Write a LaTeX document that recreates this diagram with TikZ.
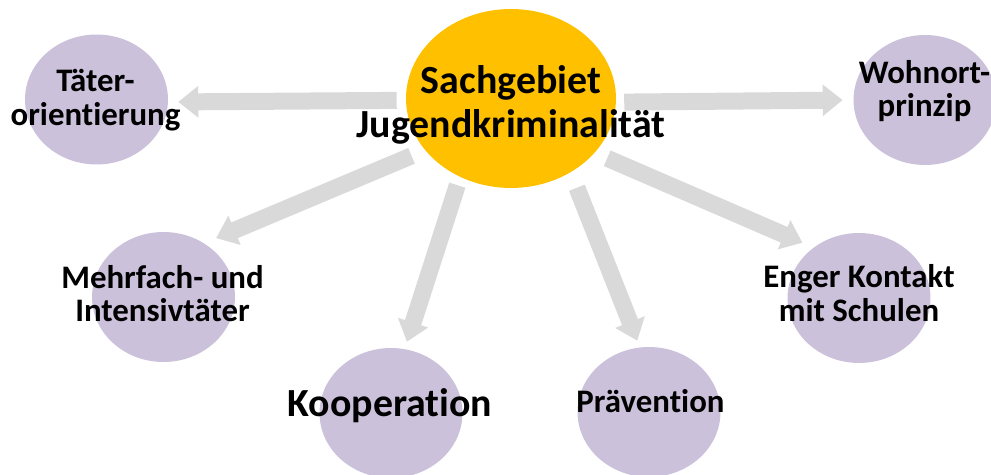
\documentclass[tikz,border=0pt]{standalone}
\usepackage{fontspec}
\setmainfont{Carlito}[RawFeature={-liga;-clig}]
\usetikzlibrary{arrows.meta,shapes.geometric}
\definecolor{hubgold}{RGB}{255,192,0}
\definecolor{leafpurple}{RGB}{204,193,218}
\definecolor{arrowgray}{RGB}{217,217,217}

\begin{document}
\begin{tikzpicture}[
    x=0.02cm, y=-0.02cm,
    every node/.style={inner sep=0pt,font=\bfseries},
    hub/.style={ellipse,fill=hubgold,minimum width=4.2cm,minimum height=3.58cm},
    leaf/.style={ellipse,fill=leafpurple,minimum width=2.86cm,minimum height=2.6cm},
    bigtext/.style={align=center,font=\bfseries\fontsize{22.7}{24.9}\selectfont},
    smalltext/.style={align=center,font=\bfseries\fontsize{18.7}{19}\selectfont},
    feed/.style={color=arrowgray,line width=0.34cm,-{Triangle[width=0.61cm,length=0.4cm]}}
  ]
  \useasboundingbox (0,0) rectangle (991,475);

  % hub and the six topics
  \node[hub] (sgb) at (511,98.5) {};
  \node[leaf] (tat) at (96.5,99.5) {};
  \node[leaf] (woh) at (925,100) {};
  \node[leaf] (meh) at (163.5,297) {};
  \node[leaf] (koo) at (391,413) {};
  \node[leaf] (pra) at (649,412) {};
  \node[leaf] (eng) at (859,298) {};

  % block arrows from the hub
  \draw[feed,shorten <=0.18cm,shorten >=0.2cm] (sgb.181.4) -- (tat.358.8);
  \draw[feed,shorten <=0.16cm,shorten >=0.21cm] (sgb.358.6) -- (woh.180.8);
  \draw[feed,shorten <=0.29cm,shorten >=0.26cm] (sgb.211.3) -- (meh.53.5);
  \draw[feed,shorten <=0.17cm,shorten >=0.15cm] (sgb.237.3) -- (koo.78);
  \draw[feed,shorten <=0.33cm,shorten >=0.14cm] (sgb.309.6) -- (pra.98.3);
  \draw[feed,shorten <=0.27cm,shorten >=0.24cm] (sgb.327.1) -- (eng.132.4);

  % texts
  \node[bigtext] (sgb-text) at (511,105) {Sachgebiet\\Jugendkriminalität};
  \node[smalltext] (tat-text) at (95.5,100) {Täter-\\orientierung};
  \node[smalltext] (woh-text) at (924.5,91) {Wohnort-\\prinzip};
  \node[smalltext] (meh-text) at (162.5,293.5) {Mehrfach- und\\Intensivtäter};
  \node[smalltext] (eng-text) at (859,293) {Enger Kontakt\\mit Schulen};
  \node[bigtext,anchor=base] (koo-text) at (390,417) {Kooperation};
  \node[smalltext,anchor=base] (pra-text) at (650.5,413) {Prävention};
\end{tikzpicture}
\end{document}
